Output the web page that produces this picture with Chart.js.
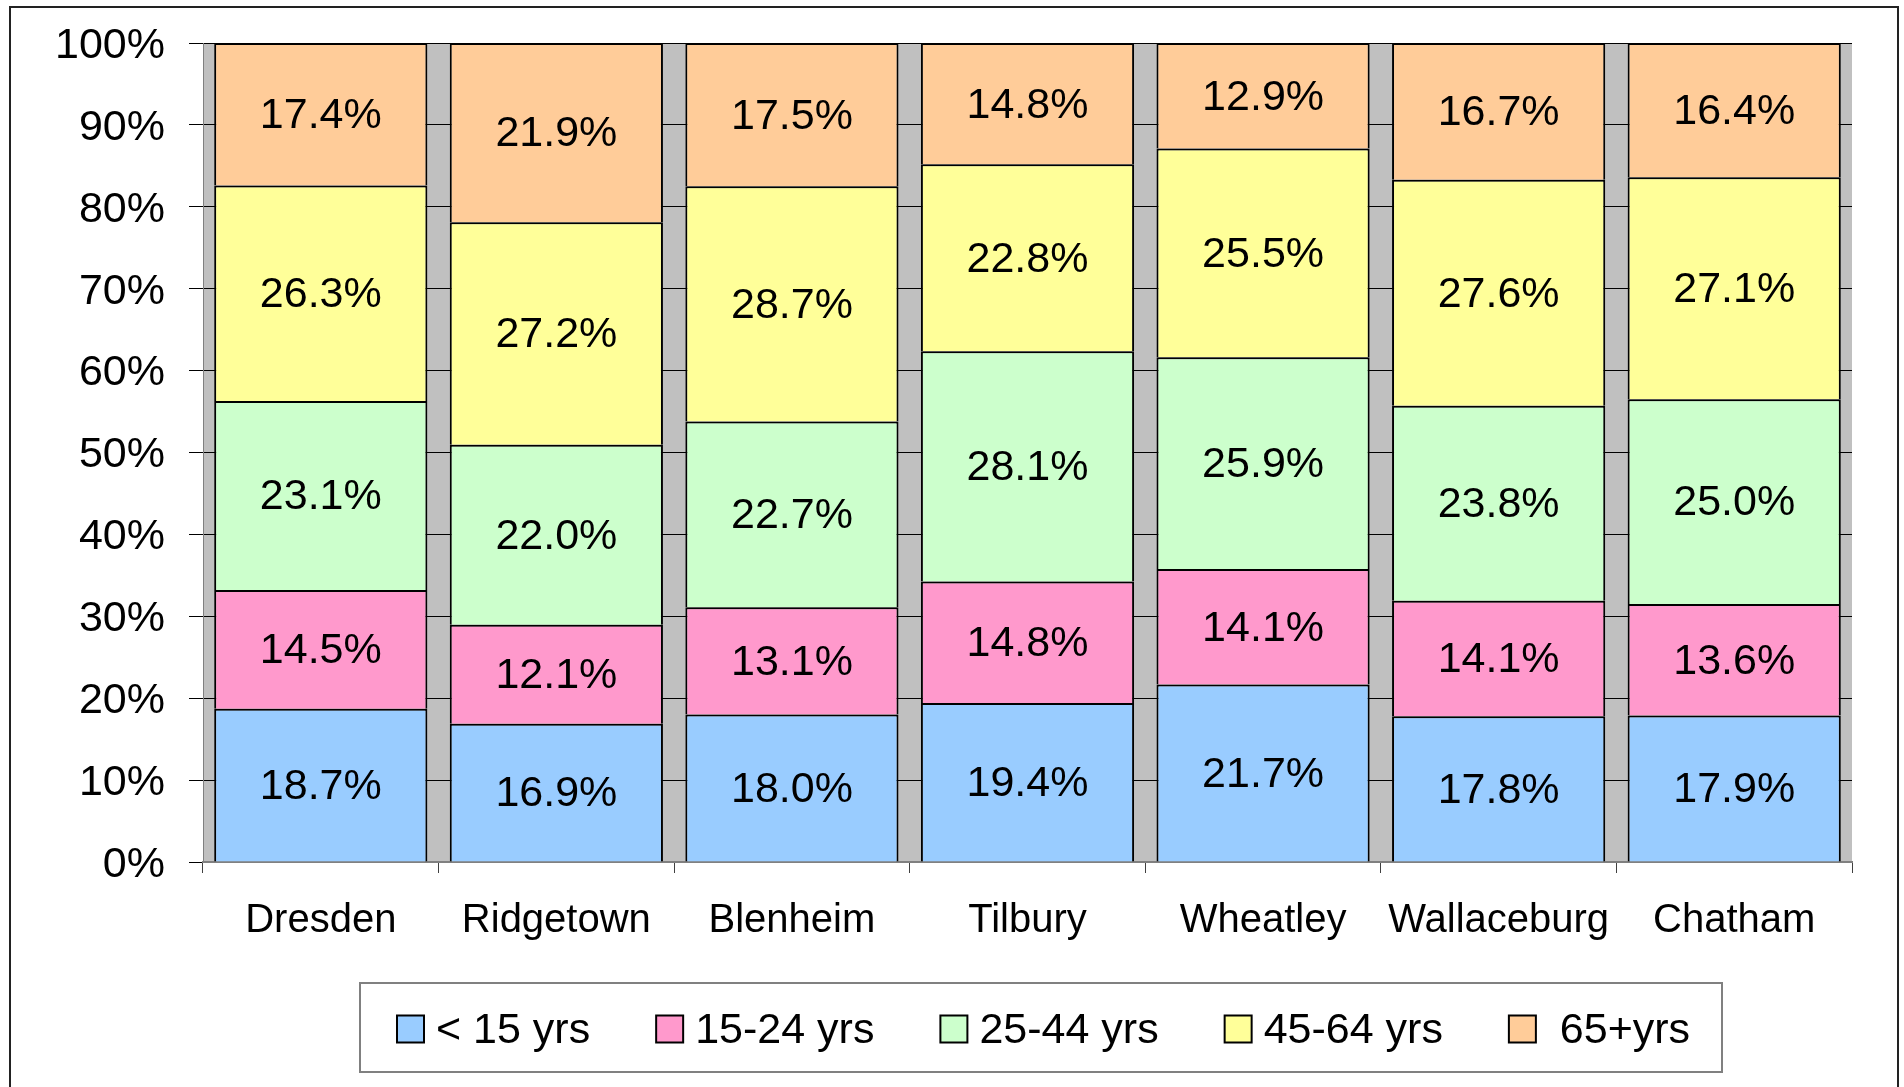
<!DOCTYPE html>
<html>
<head>
<meta charset="utf-8">
<script src="https://cdn.jsdelivr.net/npm/chart.js@4/dist/chart.umd.min.js"></script>
<style>
  html, body { margin: 0; padding: 0; background: #fff; overflow: hidden; }
  #wrap { width: 1904px; height: 1087px; position: relative; }
  canvas { display: block; }
</style>
</head>
<body>
<div id="wrap"><canvas id="c" width="1904" height="1087"></canvas></div>
<script>
const categories = ['Dresden', 'Ridgetown', 'Blenheim', 'Tilbury', 'Wheatley', 'Wallaceburg', 'Chatham'];
const seriesNames = ['< 15 yrs', '15-24 yrs', '25-44 yrs', '45-64 yrs', ' 65+yrs'];
const under15   = [18.7, 16.9, 18.0, 19.4, 21.7, 17.8, 17.9];
const age15to24 = [14.5, 12.1, 13.1, 14.8, 14.1, 14.1, 13.6];
const age25to44 = [23.1, 22.0, 22.7, 28.1, 25.9, 23.8, 25.0];
const age45to64 = [26.3, 27.2, 28.7, 22.8, 25.5, 27.6, 27.1];
const age65plus = [17.4, 21.9, 17.5, 14.8, 12.9, 16.7, 16.4];
const yTicks = [0, 10, 20, 30, 40, 50, 60, 70, 80, 90, 100];
const colors = ['#99CCFF', '#FF99CC', '#CCFFCC', '#FFFF99', '#FFCC99'];

const raw = [under15, age15to24, age25to44, age45to64, age65plus];
// 100% stacked: each column is expressed as share of its total
const totals = categories.map((_, i) => raw.reduce((s, arr) => s + arr[i], 0));
const datasets = raw.map((arr, k) => ({
  label: seriesNames[k],
  data: arr.map((v, i) => v / totals[i] * 100),
  rawValues: arr,
  backgroundColor: colors[k],
  borderColor: '#000',
  borderWidth: 2,
  categoryPercentage: 1.0,
  barPercentage: 0.905
}));

const FONT = '"Liberation Sans", Arial, sans-serif';

const bgPlugin = {
  id: 'bg',
  beforeDraw(chart) {
    const ctx = chart.ctx, a = chart.chartArea;
    ctx.save();
    ctx.fillStyle = '#fff';
    ctx.fillRect(0, 0, chart.width, chart.height);
    ctx.fillStyle = '#C0C0C0';
    ctx.fillRect(a.left, a.top, a.right - a.left, a.bottom - a.top);
    ctx.strokeStyle = '#222';
    ctx.lineWidth = 2;
    ctx.strokeRect(10, 7, 1888, 1200);
    ctx.restore();
  }
};

const labelPlugin = {
  id: 'segLabels',
  afterDatasetsDraw(chart) {
    const ctx = chart.ctx;
    ctx.save();
    ctx.font = '43px ' + FONT;
    ctx.fillStyle = '#000';
    ctx.textAlign = 'center';
    ctx.textBaseline = 'middle';
    chart.data.datasets.forEach((ds, di) => {
      const meta = chart.getDatasetMeta(di);
      meta.data.forEach((el, i) => {
        const y = (el.y + el.base) / 2;
        ctx.fillText(ds.rawValues[i].toFixed(1) + '%', el.x, y + 2);
      });
    });
    ctx.restore();
  }
};

const legendPlugin = {
  id: 'boxLegend',
  afterDraw(chart) {
    const ctx = chart.ctx;
    const box = { x: 360, y: 983, w: 1362, h: 89 };
    ctx.save();
    ctx.strokeStyle = '#808080';
    ctx.lineWidth = 2;
    ctx.strokeRect(box.x, box.y, box.w, box.h);
    ctx.font = '43px ' + FONT;
    ctx.textBaseline = 'middle';
    ctx.textAlign = 'left';
    const mk = 27, gap = 12, pad = 66;
    const items = chart.data.datasets.map(d => ({ label: d.label, color: d.backgroundColor, tw: ctx.measureText(d.label).width }));
    let x = 397;
    const cy = 1029;
    items.forEach(it => {
      ctx.fillStyle = it.color;
      ctx.fillRect(x, cy - mk / 2, mk, mk);
      ctx.strokeStyle = '#000';
      ctx.lineWidth = 2;
      ctx.strokeRect(x, cy - mk / 2, mk, mk);
      ctx.fillStyle = '#000';
      ctx.fillText(it.label, x + mk + gap, cy + 2);
      x += mk + gap + it.tw + pad;
    });
    ctx.restore();
  }
};

new Chart(document.getElementById('c'), {
  type: 'bar',
  data: { labels: categories, datasets },
  options: {
    responsive: false,
    animation: false,
    devicePixelRatio: 1,
    layout: { padding: { left: 0, top: 43, right: 52, bottom: 125 } },
    plugins: { legend: { display: false }, tooltip: { enabled: false } },
    scales: {
      x: {
        stacked: true,
        afterFit(scale) { scale.height = 100; scale.paddingLeft = 0; scale.paddingRight = 0; },
        grid: { display: true, drawOnChartArea: false, drawTicks: true, tickLength: 11, color: '#404040', offset: true },
        border: { display: true, color: '#808080', width: 2 },
        ticks: { color: '#000', font: { family: FONT, size: 40 }, padding: 24, maxRotation: 0, autoSkip: false }
      },
      y: {
        stacked: true,
        min: 0, max: 100,
        afterFit(scale) { scale.width = 203; scale.paddingTop = 0; scale.paddingBottom = 0; },
        afterBuildTicks(scale) { scale.ticks = yTicks.map(v => ({ value: v })); },
        grid: { color: '#000', lineWidth: 1, tickLength: 14, drawTicks: true },
        border: { display: true, color: '#808080', width: 1 },
        ticks: { color: '#000', font: { family: FONT, size: 43 }, padding: 24, labelOffset: 3, callback: v => v + '%' }
      }
    }
  },
  plugins: [bgPlugin, labelPlugin, legendPlugin]
});
</script>
</body>
</html>
